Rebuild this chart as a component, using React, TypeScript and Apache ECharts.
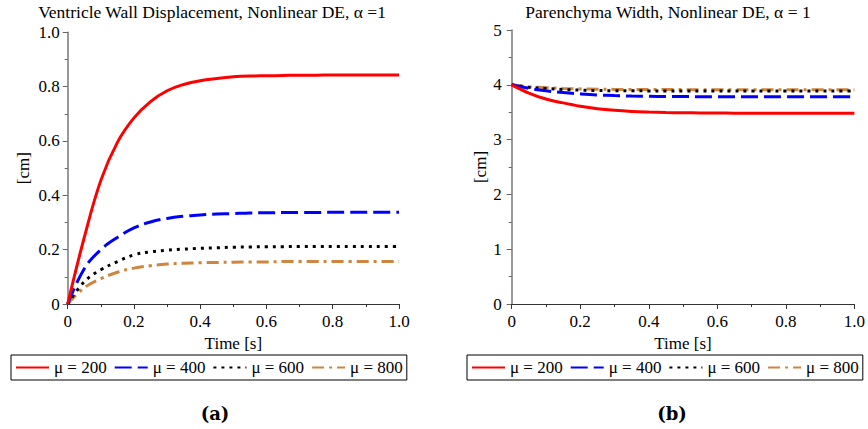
import React, { useEffect, useRef } from "react";
import * as echarts from "echarts";

// time samples [s]
const T = [0, 0.05, 0.1, 0.15, 0.2, 0.25, 0.3, 0.35, 0.4, 0.45, 0.5, 0.55, 0.6, 0.65, 0.7, 0.75, 0.8, 0.85, 0.9, 0.95, 1.0];

const seriesNames = ["μ = 200", "μ = 400", "μ = 600", "μ = 800"];

// (a) Ventricle wall displacement [cm]
const dispMu200 = [0, 0.245, 0.455, 0.595, 0.685, 0.745, 0.785, 0.808, 0.822, 0.83, 0.836, 0.839, 0.84, 0.841, 0.842, 0.842, 0.843, 0.843, 0.843, 0.843, 0.843];
const dispMu400 = [0, 0.13, 0.2, 0.245, 0.28, 0.302, 0.315, 0.323, 0.328, 0.331, 0.333, 0.335, 0.336, 0.3365, 0.337, 0.337, 0.3375, 0.3375, 0.3375, 0.3375, 0.3375];
const dispMu600 = [0, 0.082, 0.126, 0.156, 0.181, 0.192, 0.198, 0.202, 0.205, 0.207, 0.209, 0.21, 0.211, 0.211, 0.212, 0.212, 0.212, 0.212, 0.212, 0.212, 0.212];
const dispMu800 = [0, 0.06, 0.093, 0.117, 0.132, 0.141, 0.147, 0.15, 0.152, 0.153, 0.154, 0.155, 0.155, 0.156, 0.156, 0.156, 0.156, 0.156, 0.156, 0.156, 0.156];

// (b) Parenchyma width [cm]
const widthMu200 = [4, 3.85, 3.74, 3.67, 3.61, 3.565, 3.535, 3.515, 3.503, 3.495, 3.49, 3.487, 3.485, 3.483, 3.482, 3.481, 3.48, 3.48, 3.48, 3.48, 3.48];
const widthMu400 = [4, 3.935, 3.89, 3.86, 3.835, 3.815, 3.803, 3.795, 3.79, 3.787, 3.785, 3.783, 3.782, 3.781, 3.78, 3.78, 3.78, 3.78, 3.78, 3.78, 3.78];
const widthMu600 = [4, 3.955, 3.933, 3.915, 3.903, 3.896, 3.892, 3.89, 3.889, 3.888, 3.888, 3.887, 3.887, 3.887, 3.887, 3.887, 3.887, 3.887, 3.887, 3.887, 3.887];
const widthMu800 = [4, 3.965, 3.947, 3.934, 3.925, 3.92, 3.916, 3.914, 3.913, 3.912, 3.912, 3.911, 3.911, 3.911, 3.911, 3.911, 3.911, 3.911, 3.911, 3.911, 3.911];

const titleA = "Ventricle Wall Displacement, Nonlinear DE, α =1";
const titleB = "Parenchyma Width, Nonlinear DE, α = 1";
const xName = "Time [s]";
const yName = "[cm]";

const FONT = "'Liberation Serif', 'Times New Roman', serif";

const lineStyles = [
  { color: "#ff0000", width: 3, type: "solid" as any },
  { color: "#0000ff", width: 3, type: [17, 6] as any },
  { color: "#000000", width: 3, type: [3, 5] as any },
  { color: "#cd853f", width: 3, type: [12, 5, 3, 5] as any },
];

function fmt1(v: number) {
  return v === 0 ? "0" : v.toFixed(1);
}

export default function App() {
  const ref = useRef<HTMLDivElement>(null);
  useEffect(() => {
    if (!ref.current) return;
    const chart = echarts.init(ref.current, undefined, { renderer: "svg" });

    const mk = (arr: number[]) => T.map((t, i) => [t, arr[i]]);
    const dataA = [dispMu200, dispMu400, dispMu600, dispMu800];
    const dataB = [widthMu200, widthMu400, widthMu600, widthMu800];

    const axisCommon = (yAxis: boolean) => ({
      type: "value",
      axisLine: { show: true, onZero: false, lineStyle: { color: yAxis ? "#777" : "#333", width: yAxis ? 1.5 : 1 } },
      axisTick: { show: true, inside: false, length: 5, lineStyle: { color: yAxis ? "#666" : "#333", width: 1 } },
      minorTick: { show: true, splitNumber: 2, length: 3, lineStyle: { color: yAxis ? "#666" : "#333", width: 1 } },
      splitLine: { show: false },
      minorSplitLine: { show: false },
      axisLabel: { color: "#000", fontFamily: FONT, fontSize: 17 },
      nameTextStyle: { color: "#000", fontFamily: FONT, fontSize: 17 },
    });

    const series: any[] = [];
    const addSeries = (arrs: number[][], idx: number) => {
      for (let i = 0; i < 4; i++) {
        series.push({
          type: "line",
          name: seriesNames[i],
          xAxisIndex: idx,
          yAxisIndex: idx,
          data: mk(arrs[i]),
          showSymbol: false,
          symbol: "none",
          smooth: 0.4,
          lineStyle: lineStyles[i],
          itemStyle: { color: lineStyles[i].color },
          z: 10 - i,
        });
      }
    };
    addSeries(dataA, 0);
    addSeries(dataB, 1);

    const legendCommon = {
      data: seriesNames,
      orient: "horizontal",
      top: 355,
      itemWidth: 33,
      itemHeight: 14,
      itemGap: 7,
      padding: [4, 4, 4, 4],
      borderColor: "#000",
      borderWidth: 1,
      selectedMode: false,
      itemStyle: { opacity: 0 },
      textStyle: { color: "#000", fontFamily: FONT, fontSize: 17 },
    };

    const xAx = (grid: number) => ({
      ...axisCommon(false),
      gridIndex: grid,
      min: 0,
      max: 1,
      interval: 0.2,
      name: xName,
      nameLocation: "middle",
      nameGap: 31,
      axisLabel: { ...axisCommon(false).axisLabel, margin: 9, formatter: fmt1 },
    });

    chart.setOption({
      animation: false,
      backgroundColor: "#fff",
      grid: [
        { left: 67.7, top: 32.3, width: 331.3, height: 271.7, containLabel: false },
        { left: 511.7, top: 30, width: 345, height: 274, containLabel: false },
      ],
      xAxis: [xAx(0), xAx(1)],
      yAxis: [
        {
          ...axisCommon(true),
          gridIndex: 0,
          min: 0,
          max: 1,
          interval: 0.2,
          name: yName,
          nameLocation: "middle",
          nameGap: 36,
          axisLabel: { ...axisCommon(true).axisLabel, margin: 8, formatter: fmt1 },
        },
        {
          ...axisCommon(true),
          gridIndex: 1,
          min: 0,
          max: 5,
          interval: 1,
          name: yName,
          nameLocation: "middle",
          nameGap: 23,
          axisLabel: { ...axisCommon(true).axisLabel, margin: 10 },
        },
      ],
      legend: [
        { ...legendCommon, left: 11 },
        { ...legendCommon, left: 467 },
      ],
      graphic: [
        {
          type: "text",
          x: 212,
          y: 12,
          style: { text: titleA, align: "center", verticalAlign: "middle", fontFamily: FONT, fontSize: 17.5, fill: "#000" },
        },
        {
          type: "text",
          x: 668,
          y: 12,
          style: { text: titleB, align: "center", verticalAlign: "middle", fontFamily: FONT, fontSize: 17.5, fill: "#000" },
        },
        {
          type: "text",
          x: 215,
          y: 413,
          style: { text: "(a)", align: "center", verticalAlign: "middle", fontFamily: "'DejaVu Serif', serif", fontWeight: "bold", fontSize: 18, fill: "#000" },
        },
        {
          type: "text",
          x: 672,
          y: 413,
          style: { text: "(b)", align: "center", verticalAlign: "middle", fontFamily: "'DejaVu Serif', serif", fontWeight: "bold", fontSize: 18, fill: "#000" },
        },
      ],
      series,
    });

    return () => chart.dispose();
  }, []);

  return (
    <div
      ref={ref}
      style={{ position: "absolute", left: 0, top: 0, width: 868, height: 429, background: "#fff" }}
    />
  );
}
